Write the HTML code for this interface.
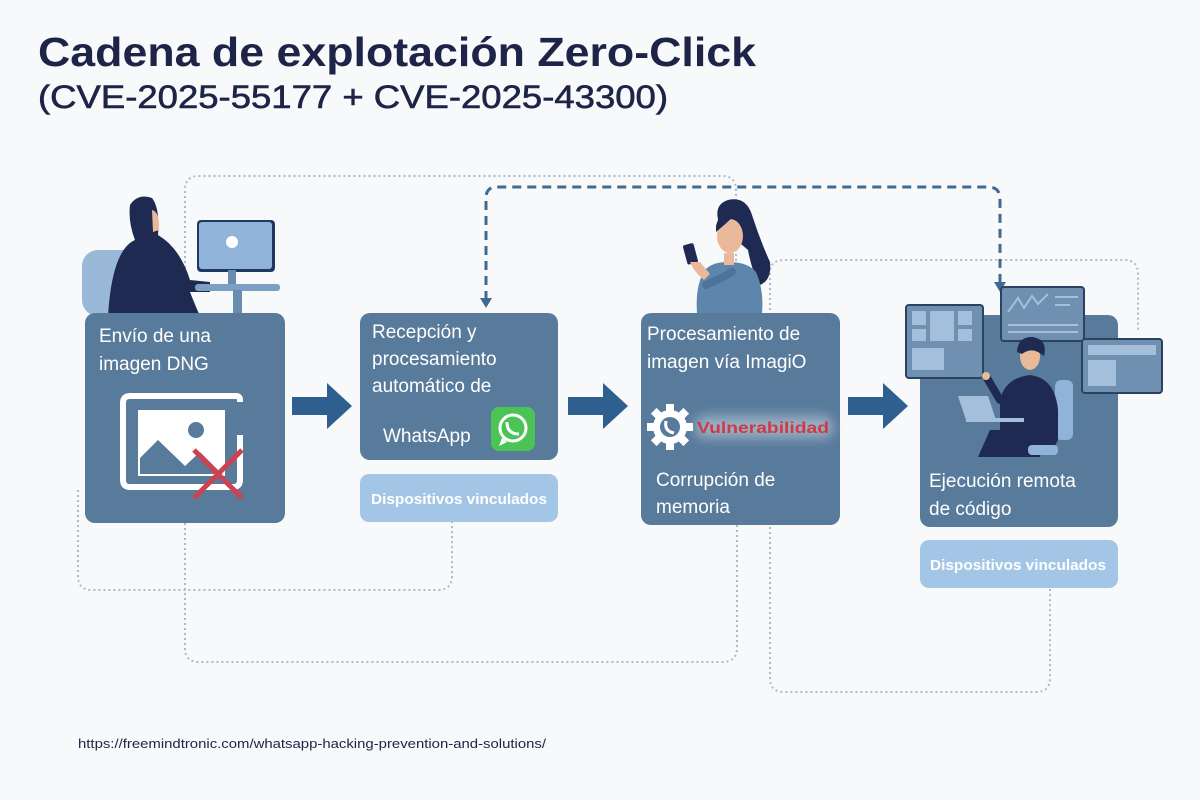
<!DOCTYPE html>
<html><head><meta charset="utf-8"><style>
html,body{margin:0;padding:0;background:#f8f9fb;}
svg{display:block}
text{font-family:"Liberation Sans",sans-serif;}
</style></head><body>
<svg width="1200" height="800" viewBox="0 0 1200 800" xmlns="http://www.w3.org/2000/svg">
<defs><filter id="bl" x="-20%" y="-50%" width="140%" height="200%"><feGaussianBlur stdDeviation="6"/></filter></defs>
<rect width="1200" height="800" fill="#f8f9fb"/>
<!-- title -->
<text x="38" y="66" font-size="41" font-weight="bold" fill="#1d2447" textLength="718" lengthAdjust="spacingAndGlyphs">Cadena de explotación Zero-Click</text>
<text x="38" y="108" font-size="32" fill="#1d2447" stroke="#1d2447" stroke-width="0.6" textLength="630" lengthAdjust="spacingAndGlyphs">(CVE-2025-55177  +  CVE-2025-43300)</text>

<!-- dotted connectors -->
<g fill="none" stroke="#a9bccb" stroke-width="2" stroke-dasharray="2 3">
<path d="M185 313 V190 Q185 176 199 176 H722 Q736 176 736 190 V313"/>
<path d="M185 523 V648 Q185 662 199 662 H722 Q737 662 737 648 V525"/>
<path d="M78 490 V576 Q78 590 92 590 H438 Q452 590 452 576 V522"/>
<path d="M770 315 V273 Q770 260 784 260 H1124 Q1138 260 1138 274 V330"/>
<path d="M770 527 V678 Q770 692 784 692 H1036 Q1050 692 1050 678 V588"/>
</g>
<!-- dashed thick connector -->
<g fill="none" stroke="#3f6a92" stroke-width="3" stroke-dasharray="9 6">
<path d="M486 300 V198 Q486 187 497 187 H988 Q1000 187 1000 199 V282"/>
</g>
<path d="M480 298 L492 298 L486 308 Z" fill="#3f6a92"/>
<path d="M994 282 L1006 282 L1000 292 Z" fill="#3f6a92"/>

<!-- figure 1: hacker -->
<rect x="82" y="250" width="62" height="66" rx="16" fill="#9ab8d8"/>
<path d="M108 316 Q112 250 135 240 Q128 222 130 205 Q138 193 152 198 Q160 208 158 235 Q180 248 190 280 L210 282 L210 292 L190 292 Q195 305 200 316 Z" fill="#1f2a52"/>
<path d="M152 210 Q160 212 159 230 L153 232 Z" fill="#e9b99a"/>
<rect x="197" y="220" width="78" height="52" rx="4" fill="#1f3a5e"/>
<rect x="199" y="222" width="73" height="47" rx="3" fill="#8fb3d9"/>
<circle cx="232" cy="242" r="6" fill="#fff"/>
<rect x="228" y="270" width="8" height="14" fill="#6a8cb0"/>
<rect x="195" y="284" width="85" height="7" rx="3" fill="#7c9fc2"/>
<rect x="233" y="290" width="9" height="24" fill="#6a8cb0"/>

<!-- figure 2: woman -->
<path d="M720 226 Q712 205 728 200 Q746 196 752 215 Q760 240 770 262 Q772 280 760 285 Q752 272 748 250 Z" fill="#1f2a52"/>
<path d="M697 313 Q695 285 705 270 Q712 262 728 262 Q748 262 756 272 Q764 290 762 313 Z" fill="#5e86ad"/>
<ellipse cx="730" cy="236" rx="13" ry="17" fill="#e9b99a"/>
<path d="M716 226 Q720 208 738 212 Q728 222 716 232 Z" fill="#1f2a52"/>
<rect x="724" y="253" width="10" height="12" fill="#e9b99a"/>
<rect x="685" y="244" width="11" height="20" rx="2" fill="#1f2a52" transform="rotate(-15 690 254)"/>
<path d="M690 262 Q694 272 704 280 L710 274 L700 262 Z" fill="#e9b99a"/>
<path d="M706 285 Q722 278 732 272" stroke="#4e739a" stroke-width="8" fill="none" stroke-linecap="round"/>

<!-- boxes -->
<rect x="85" y="313" width="200" height="210" rx="10" fill="#587a9b"/>
<rect x="360" y="313" width="198" height="147" rx="10" fill="#587a9b"/>
<rect x="360" y="474" width="198" height="48" rx="9" fill="#a4c6e6"/>
<rect x="641" y="313" width="199" height="212" rx="10" fill="#587a9b"/>
<rect x="920" y="315" width="198" height="212" rx="10" fill="#587a9b"/>
<rect x="920" y="540" width="198" height="48" rx="9" fill="#a4c6e6"/>

<!-- arrows -->
<g fill="#2f5f8e">
<path d="M292 397 H327 V383 L352 406 L327 429 V415 H292 Z"/>
<path d="M568 397 H603 V383 L628 406 L603 429 V415 H568 Z"/>
<path d="M848 397 H883 V383 L908 406 L883 429 V415 H848 Z"/>
</g>

<!-- box1 text + icon -->
<text x="99" y="342" font-size="19" fill="#fff">Envío de una</text>
<text x="99" y="370" font-size="19" fill="#fff">imagen DNG</text>
<path d="M240 402 V400 Q240 396 236 396 H130 Q123 396 123 403 V480 Q123 487 130 487 H233 Q240 487 240 480 V435" fill="none" stroke="#fff" stroke-width="6"/>
<rect x="138" y="410" width="87" height="66" fill="#fff"/>
<circle cx="196" cy="430" r="8" fill="#587a9b"/>
<path d="M140 458 L158 440 L185 466 L200 452 L222 474 H140 Z" fill="#587a9b"/>
<path d="M194 450 L242 498 M242 450 L194 498" stroke="#d0414f" stroke-width="5"/>

<!-- box2 -->
<text x="372" y="338" font-size="19" fill="#fff">Recepción y</text>
<text x="372" y="365" font-size="19" fill="#fff">procesamiento</text>
<text x="372" y="392" font-size="19" fill="#fff">automático de</text>
<text x="383" y="442" font-size="19" fill="#fff">WhatsApp</text>
<rect x="491" y="407" width="44" height="44" rx="8" fill="#4cc455"/>
<circle cx="513" cy="428" r="13" fill="none" stroke="#fff" stroke-width="3"/>
<path d="M502 438 L499 446 L507 442" fill="#fff"/>
<path d="M507 422 Q507 434 519 434" stroke="#fff" stroke-width="3" fill="none"/>
<text x="459" y="504" font-size="15" font-weight="bold" fill="#fff" text-anchor="middle" textLength="176" lengthAdjust="spacingAndGlyphs">Dispositivos vinculados</text>

<!-- box3 -->
<text x="647" y="340" font-size="19" fill="#fff">Procesamiento de</text>
<text x="647" y="368" font-size="19" fill="#fff">imagen vía ImagiO</text>
<rect x="695" y="416" width="138" height="22" rx="10" fill="#b9c8d6" opacity="0.7" filter="url(#bl)"/>
<g fill="#fff" transform="translate(670 427)">
<rect x="-4" y="-23" width="8" height="10"/><rect x="-4" y="13" width="8" height="10"/><rect x="-23" y="-4" width="10" height="8"/><rect x="13" y="-4" width="10" height="8"/>
<g transform="rotate(45)"><rect x="-4" y="-23" width="8" height="10"/><rect x="-4" y="13" width="8" height="10"/><rect x="-23" y="-4" width="10" height="8"/><rect x="13" y="-4" width="10" height="8"/></g>
<circle r="17"/>
</g>
<circle cx="670" cy="427" r="10" fill="#587a9b"/>
<path d="M666 421 Q664 431 674 433" stroke="#fff" stroke-width="3" fill="none"/>
<text x="697" y="433" font-size="16" font-weight="bold" fill="#cf3a46" textLength="132" lengthAdjust="spacingAndGlyphs">Vulnerabilidad</text>
<text x="656" y="486" font-size="19" fill="#fff">Corrupción de</text>
<text x="656" y="513" font-size="19" fill="#fff">memoria</text>

<!-- box4 illustration -->
<rect x="906" y="305" width="77" height="73" rx="3" fill="#6f90b0" stroke="#2c4261" stroke-width="2"/>
<g fill="#a3bfdc"><rect x="912" y="311" width="14" height="14"/><rect x="930" y="311" width="24" height="30"/><rect x="958" y="311" width="14" height="14"/><rect x="912" y="329" width="14" height="12"/><rect x="958" y="329" width="14" height="12"/><rect x="912" y="348" width="32" height="22"/></g>
<rect x="1001" y="287" width="83" height="54" rx="3" fill="#6f90b0" stroke="#2c4261" stroke-width="2"/>
<path d="M1008 312 L1018 298 L1024 308 L1032 296 L1038 304 L1048 294" stroke="#a3bfdc" stroke-width="2" fill="none"/>
<g stroke="#a3bfdc" stroke-width="2"><line x1="1055" y1="297" x2="1078" y2="297"/><line x1="1055" y1="305" x2="1070" y2="305"/><line x1="1008" y1="325" x2="1078" y2="325"/><line x1="1008" y1="332" x2="1078" y2="332"/></g>
<rect x="1082" y="339" width="80" height="54" rx="3" fill="#6f90b0" stroke="#2c4261" stroke-width="2"/>
<rect x="1088" y="345" width="68" height="10" fill="#a3bfdc"/>
<rect x="1088" y="360" width="28" height="26" fill="#a3bfdc"/>
<rect x="1055" y="380" width="18" height="60" rx="6" fill="#8fb3d9"/>
<path d="M1000 400 Q1005 378 1030 375 Q1055 378 1058 410 L1058 440 L1050 455 L1000 455 Z" fill="#1f2a52"/>
<path d="M978 457 L990 430 L1045 430 L1040 457 Z" fill="#1f2a52"/>
<rect x="1028" y="445" width="30" height="10" rx="4" fill="#8fb3d9"/>
<ellipse cx="1030" cy="356" rx="10" ry="14" fill="#e9b99a"/>
<path d="M1017 352 Q1018 336 1033 337 Q1048 340 1044 356 L1038 352 Q1030 348 1022 354 Z" fill="#1f2a52"/>
<path d="M1000 400 L987 378" stroke="#1f2a52" stroke-width="8" stroke-linecap="round"/>
<circle cx="986" cy="376" r="4" fill="#e9b99a"/>
<path d="M958 396 L988 396 L996 420 L966 420 Z" fill="#a3bfdc"/>
<rect x="966" y="418" width="58" height="4" fill="#a3bfdc"/>
<text x="929" y="487" font-size="19" fill="#fff">Ejecución remota</text>
<text x="929" y="515" font-size="19" fill="#fff">de código</text>
<text x="1018" y="570" font-size="15" font-weight="bold" fill="#fff" text-anchor="middle" textLength="176" lengthAdjust="spacingAndGlyphs">Dispositivos vinculados</text>

<!-- url -->
<text x="78" y="748" font-size="13" fill="#1d2447" textLength="468" lengthAdjust="spacingAndGlyphs">https://freemindtronic.com/whatsapp-hacking-prevention-and-solutions/</text>
</svg>
</body></html>
